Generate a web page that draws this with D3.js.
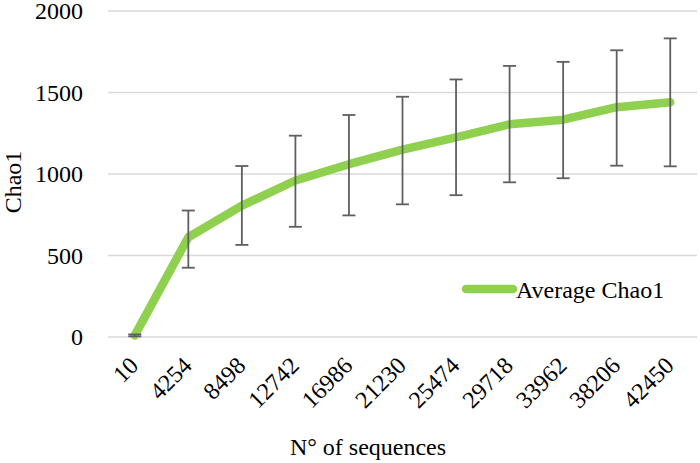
<!DOCTYPE html>
<html>
<head>
<meta charset="utf-8">
<script src="https://cdn.jsdelivr.net/npm/d3@7"></script>
</head>
<body style="margin:0;background:#fff">
<svg id="fig" width="700" height="463" style="display:block" font-family="serif"></svg>
<script>
const categories = ["10","4254","8498","12742","16986","21230","25474","29718","33962","38206","42450"];
const meanValues = [10, 612, 806, 960, 1060, 1150, 1225, 1305, 1333, 1410, 1440];
const upperValues = [16, 776, 1049, 1235, 1362, 1474, 1580, 1663, 1688, 1759, 1832];
const lowerValues = [4, 425, 565, 676, 746, 814, 870, 949, 974, 1051, 1047];
const yTicks = [0, 500, 1000, 1500, 2000];
const seriesName = "Average Chao1";
const yTitle = "Chao1";
const xTitle = "N\u00B0 of sequences";

const svgSel = d3.select("#fig");
const FONT = "serif";
const mLeft = 108, mRight = 697, mTop = 11, mBottom = 337;
const xScale = d3.scalePoint().domain(categories).range([mLeft, mRight]).padding(0.5);
const yScale = d3.scaleLinear().domain([0, 2000]).range([mBottom, mTop]);
const green = "#8fd14f";

svgSel.append("g").selectAll("line").data(yTicks).join("line")
  .attr("x1", mLeft).attr("x2", mRight)
  .attr("y1", d => yScale(d)).attr("y2", d => yScale(d))
  .attr("stroke", "#d9d9d9").attr("stroke-width", 1.5);

svgSel.append("g").selectAll("text").data(yTicks).join("text")
  .attr("x", 83).attr("y", d => yScale(d) + 8)
  .attr("text-anchor", "end").attr("font-size", 24).attr("font-family", FONT)
  .text(d => d);

svgSel.append("g").selectAll("text").data(categories).join("text")
  .attr("text-anchor", "end").attr("font-size", 24).attr("font-family", FONT)
  .attr("transform", d => `translate(${xScale(d) + 5},367) rotate(-45)`)
  .text(d => d);

const rows = categories.map((c, i) => ({c, m: meanValues[i], u: upperValues[i], l: lowerValues[i]}));
svgSel.append("path").datum(rows)
  .attr("d", d3.line().x(d => xScale(d.c)).y(d => yScale(d.m)))
  .attr("fill", "none").attr("stroke", green).attr("stroke-width", 8.5)
  .attr("stroke-linecap", "round").attr("stroke-linejoin", "round");

const eb = svgSel.append("g").attr("stroke", "#5f5f5f").attr("stroke-width", 1.8);
eb.selectAll("line.v").data(rows).join("line").attr("class", "v")
  .attr("x1", d => xScale(d.c)).attr("x2", d => xScale(d.c))
  .attr("y1", d => yScale(d.u)).attr("y2", d => yScale(d.l));
eb.selectAll("line.t").data(rows).join("line").attr("class", "t")
  .attr("x1", d => xScale(d.c) - 6.5).attr("x2", d => xScale(d.c) + 6.5)
  .attr("y1", d => yScale(d.u)).attr("y2", d => yScale(d.u));
eb.selectAll("line.b").data(rows).join("line").attr("class", "b")
  .attr("x1", d => xScale(d.c) - 6.5).attr("x2", d => xScale(d.c) + 6.5)
  .attr("y1", d => yScale(d.l)).attr("y2", d => yScale(d.l));

svgSel.append("line").attr("x1", 466).attr("x2", 513).attr("y1", 289).attr("y2", 289)
  .attr("stroke", green).attr("stroke-width", 8.5).attr("stroke-linecap", "round");
svgSel.append("text").attr("x", 516).attr("y", 298).attr("font-size", 24).attr("font-family", FONT)
  .text(seriesName);

svgSel.append("text").attr("transform", "translate(21,182) rotate(-90)")
  .attr("text-anchor", "middle").attr("font-size", 24).attr("font-family", FONT).text(yTitle);
svgSel.append("text").attr("x", 368).attr("y", 455)
  .attr("text-anchor", "middle").attr("font-size", 24).attr("font-family", FONT).text(xTitle);
</script>
</body>
</html>
